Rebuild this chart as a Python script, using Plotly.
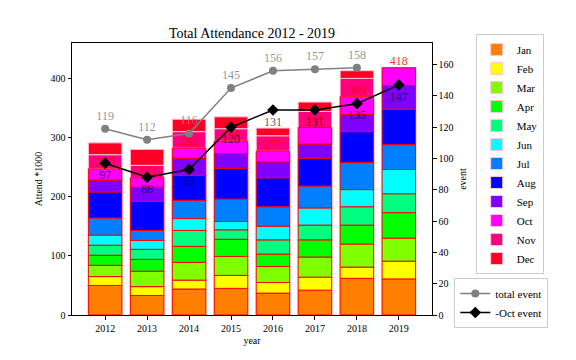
import plotly.graph_objects as go

years = [2012, 2013, 2014, 2015, 2016, 2017, 2018, 2019]
months = ["Jan", "Feb", "Mar", "Apr", "May", "Jun", "Jul", "Aug", "Sep", "Oct", "Nov", "Dec"]

jan = [50, 33, 44, 45, 37, 42, 62, 61]
feb = [15, 15, 15, 22, 18, 22, 19, 30]
mar = [19, 26, 30, 32, 27, 34, 39, 39]
apr = [17, 20, 27, 29, 21, 29, 32, 43]
may = [17, 17, 27, 16, 24, 25, 31, 32]
jun = [17, 15, 20, 14, 23, 29, 29, 41]
jul = [29, 17, 31, 38, 33, 37, 46, 42]
aug = [44, 49, 42, 52, 49, 47, 52, 60]
sep = [20, 24, 29, 25, 27, 24, 29, 40]
oct_ = [19, 16, 17, 21, 18, 28, 30, 30]
nov = [24, 21, 28, 21, 26, 27, 31, None]
dec = [20, 27, 21, 20, 13, 16, 13, None]

total_event = [119, 112, 116, 145, 156, 157, 158, None]
oct_event = [97, 88, 93, 120, 131, 131, 135, 147]

month_values = [jan, feb, mar, apr, may, jun, jul, aug, sep, oct_, nov, dec]
colors = ["#ff8000", "#ffff00", "#80ff00", "#00ff00", "#00ff80", "#00ffff",
          "#0080ff", "#0000ff", "#8000ff", "#ff00ff", "#ff0080", "#ff0024"]

FONT = "Liberation Serif"
fig = go.Figure()

# cumulative bases
bases = []
cum = [0] * len(years)
for vals in month_values:
    bases.append(list(cum))
    cum = [c + (v or 0) for c, v in zip(cum, vals)]

# full stack (light edges, legend)
for m, vals, base, col in zip(months, month_values, bases, colors):
    fig.add_trace(go.Bar(
        x=years, y=vals, base=base, name=m, width=0.8,
        marker=dict(color=col, line=dict(color="#ffc8d4", width=1)),
        legend="legend", hoverinfo="skip"))

# Jan-Oct overlay (red edges)
for m, vals, base, col in zip(months[:10], month_values[:10], bases[:10], colors[:10]):
    fig.add_trace(go.Bar(
        x=years, y=vals, base=base, name=m, width=0.8, showlegend=False,
        marker=dict(color=col, line=dict(color="#ff0000", width=1)),
        hoverinfo="skip"))

jan_oct_sum = bases[10]
fig.add_trace(go.Scatter(
    x=years, y=jan_oct_sum, mode="text", text=[str(v) for v in jan_oct_sum],
    textposition="top center", textfont=dict(family=FONT, size=12, color="rgba(255,0,0,0.85)"),
    showlegend=False, hoverinfo="skip"))

fig.add_trace(go.Scatter(
    x=years, y=total_event, yaxis="y2", mode="lines+markers+text", name="total event",
    text=[str(v) if v is not None else "" for v in total_event], textposition="top center",
    textfont=dict(family=FONT, size=12, color="rgba(128,128,128,0.85)"),
    line=dict(color="#808080", width=1.5), marker=dict(color="#808080", size=8, symbol="circle"),
    legend="legend2"))

fig.add_trace(go.Scatter(
    x=years, y=oct_event, yaxis="y2", mode="lines+markers+text", name="-Oct event",
    text=[str(v) for v in oct_event], textposition="bottom center",
    textfont=dict(family=FONT, size=12, color="rgba(0,0,0,0.7)"),
    line=dict(color="#000000", width=1.5), marker=dict(color="#000000", size=9, symbol="diamond"),
    legend="legend2"))

# page body has an 8px margin, so the figure is 568x352 and offset by 8px
W, H = 568, 352
PH = 272  # plot height in px
fig.update_layout(
    width=W, height=H,
    barmode="overlay",
    paper_bgcolor="white", plot_bgcolor="white",
    margin=dict(l=64, r=144, t=35, b=45, autoexpand=False),
    font=dict(family=FONT, size=10, color="black"),
    title=dict(text="Total Attendance 2012 - 2019", x=244 / W, xanchor="center",
               y=1 - 25 / H, yanchor="middle", font=dict(family=FONT, size=14)),
    xaxis=dict(tickvals=years, ticktext=[str(y) for y in years], range=[2011.21, 2019.79],
               showline=True, linecolor="black", linewidth=1, mirror=True,
               ticks="outside", ticklen=3.5, tickcolor="black", showgrid=False, zeroline=False,
               title=dict(text="year", standoff=4, font=dict(size=10))),
    yaxis=dict(range=[0, 459.8], tickvals=[0, 100, 200, 300, 400],
               showline=True, linecolor="black", linewidth=1,
               ticks="outside", ticklen=3.5, tickcolor="black", showgrid=False, zeroline=False,
               title=dict(text="Attend *1000", standoff=6, font=dict(size=10))),
    yaxis2=dict(range=[0, 173.8], tickvals=list(range(0, 161, 20)), overlaying="y", side="right",
                showline=True, linecolor="black", linewidth=1,
                ticks="outside", ticklen=3.5, tickcolor="black", showgrid=False, zeroline=False,
                title=dict(text="event", standoff=6, font=dict(size=10))),
    legend=dict(x=(475.7 - 72) / 360, y=1.0 + 9 / PH, xanchor="left", yanchor="top",
                bgcolor="white", bordercolor="#cccccc", borderwidth=1, maxheight=300,
                font=dict(family=FONT, size=11), traceorder="normal", itemwidth=30),
    legend2=dict(x=(454.3 - 72) / 360, y=(315 - 278) / PH, xanchor="left", yanchor="top",
                 bgcolor="white", bordercolor="#cccccc", borderwidth=1, maxheight=100,
                 font=dict(family=FONT, size=11), traceorder="normal", itemwidth=30),
)

fig.write_html("out.html")
